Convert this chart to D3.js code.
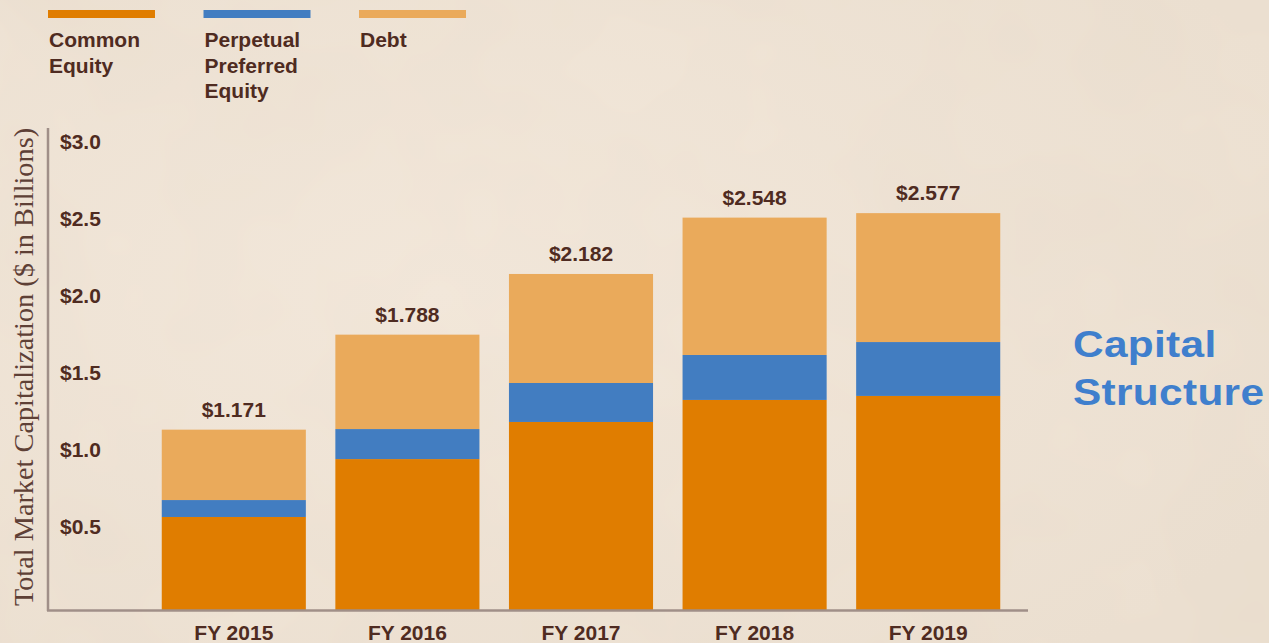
<!DOCTYPE html>
<html>
<head>
<meta charset="utf-8">
<script src="https://cdn.jsdelivr.net/npm/d3@7"></script>
<style>
  html, body { margin: 0; padding: 0; background: #f0e4d6; }
  svg { display: block; }
</style>
</head>
<body>
<svg id="chart" width="1269" height="643"></svg>
<script>
// ---- data ----
const categories = ["FY 2015", "FY 2016", "FY 2017", "FY 2018", "FY 2019"];
const commonEquity = [0.604, 0.980, 1.221, 1.364, 1.390];
const preferredEquity = [0.110, 0.195, 0.253, 0.292, 0.350];
const debt = [0.457, 0.613, 0.708, 0.892, 0.837];
const totals = [1.171, 1.788, 2.182, 2.548, 2.577];
const seriesNames = ["Common Equity", "Perpetual Preferred Equity", "Debt"];
const legendLines = [["Common", "Equity"], ["Perpetual", "Preferred", "Equity"], ["Debt"]];
const yTicks = [0.5, 1.0, 1.5, 2.0, 2.5, 3.0];
const yTitle = "Total Market Capitalization ($ in Billions)";
const sideTitle = ["Capital", "Structure"];

const colors = ["#e07d00", "#427dc1", "#eaaa5b"];
const textColor = "#4f2b21";

const svg = d3.select("#chart");
const W = 1269, H = 643;

// background with soft texture
const defs = svg.append("defs");
const rg = defs.append("radialGradient").attr("id", "bg").attr("cx", "35%").attr("cy", "45%").attr("r", "75%");
rg.append("stop").attr("offset", "0%").attr("stop-color", "#f3e8db");
rg.append("stop").attr("offset", "100%").attr("stop-color", "#ece0d1");
svg.append("rect").attr("width", W).attr("height", H).attr("fill", "url(#bg)");
const flt = defs.append("filter").attr("id", "tex").attr("x", 0).attr("y", 0).attr("width", "100%").attr("height", "100%");
flt.append("feTurbulence").attr("type", "fractalNoise").attr("baseFrequency", "0.006").attr("numOctaves", 3).attr("seed", 7).attr("result", "n");
flt.append("feColorMatrix").attr("type", "matrix")
  .attr("values", "0 0 0 0 0.55  0 0 0 0 0.45  0 0 0 0 0.35  0 0 0 0.10 -0.02");
svg.append("rect").attr("width", W).attr("height", H).attr("filter", "url(#tex)");

// scales
const y = d3.scaleLinear().domain([0, 3]).range([610, 148]);
const x = d3.scaleBand().domain(categories).range([147, 1015]).paddingInner(0.17).paddingOuter(0.085);

// stacked data
const rows = categories.map((c, i) => ({ cat: c, s0: commonEquity[i], s1: preferredEquity[i], s2: debt[i] }));
const stack = d3.stack().keys(["s0", "s1", "s2"])(rows);

svg.append("g").selectAll("g").data(stack).join("g")
  .attr("fill", (d, i) => colors[i])
  .selectAll("rect").data(d => d).join("rect")
  .attr("x", d => x(d.data.cat))
  .attr("width", x.bandwidth())
  .attr("y", d => y(d[1]))
  .attr("height", d => y(d[0]) - y(d[1]));

// total labels
svg.append("g").selectAll("text").data(categories).join("text")
  .attr("x", d => x(d) + x.bandwidth() / 2)
  .attr("y", (d, i) => y(d3.sum([commonEquity[i], preferredEquity[i], debt[i]])) - 13)
  .attr("text-anchor", "middle")
  .attr("font-family", "'Liberation Sans', Arial, sans-serif")
  .attr("font-weight", "bold").attr("font-size", 21)
  .attr("fill", textColor)
  .text((d, i) => "$" + totals[i].toFixed(3));

// y axis
const yAxis = svg.append("g").attr("transform", "translate(48,0)")
  .call(d3.axisRight(y).tickValues(yTicks).tickSize(0).tickPadding(12).tickFormat(d => "$" + d.toFixed(1)));
yAxis.select(".domain").remove();
yAxis.selectAll("text")
  .attr("dy", "0")
  .attr("text-anchor", "start")
  .attr("font-family", "'Liberation Sans', Arial, sans-serif")
  .attr("font-weight", "bold").attr("font-size", 21)
  .attr("fill", textColor);
svg.append("line").attr("x1", 48).attr("x2", 48).attr("y1", 128).attr("y2", 611)
  .attr("stroke", "#a08f88").attr("stroke-width", 2.5);

// x axis
const xAxis = svg.append("g").attr("transform", "translate(0,610)")
  .call(d3.axisBottom(x).tickSize(0).tickPadding(30));
xAxis.select(".domain").remove();
xAxis.selectAll("text")
  .attr("dy", "0")
  .attr("font-family", "'Liberation Sans', Arial, sans-serif")
  .attr("font-weight", "bold").attr("font-size", 21)
  .attr("fill", textColor);
svg.append("line").attr("x1", 47).attr("x2", 1028).attr("y1", 610.5).attr("y2", 610.5)
  .attr("stroke", "#a08f88").attr("stroke-width", 2.5);

// y title
svg.append("text")
  .attr("transform", "translate(33,367) rotate(-90)")
  .attr("text-anchor", "middle")
  .attr("font-family", "'Liberation Serif', 'Times New Roman', serif")
  .attr("font-size", 28.3)
  .attr("fill", "#5e4036")
  .text(yTitle);

// legend
const lx = d3.scaleBand().domain(seriesNames).range([48, 466]).paddingInner(0.312);
const lg = svg.append("g").selectAll("g").data(seriesNames).join("g")
  .attr("transform", d => `translate(${lx(d)},0)`);
lg.append("rect").attr("x", 0).attr("y", 10).attr("width", lx.bandwidth()).attr("height", 8)
  .attr("fill", (d, i) => colors[i]);
lg.append("text")
  .attr("font-family", "'Liberation Sans', Arial, sans-serif")
  .attr("font-weight", "bold").attr("font-size", 21)
  .attr("fill", textColor)
  .selectAll("tspan").data((d, i) => legendLines[i]).join("tspan")
  .attr("x", 1).attr("y", (d, j) => 47 + j * 25.5)
  .text(d => d);

// side title
svg.append("text")
  .attr("transform", "translate(1073,0) scale(1.16,1)")
  .attr("font-family", "'Liberation Sans', Arial, sans-serif")
  .attr("font-weight", "bold").attr("font-size", 36.5)
  .attr("letter-spacing", 0.3)
  .attr("fill", "#3f7fcd")
  .selectAll("tspan").data(sideTitle).join("tspan")
  .attr("x", 0).attr("y", (d, j) => 357 + j * 48)
  .text(d => d);
</script>
</body>
</html>
